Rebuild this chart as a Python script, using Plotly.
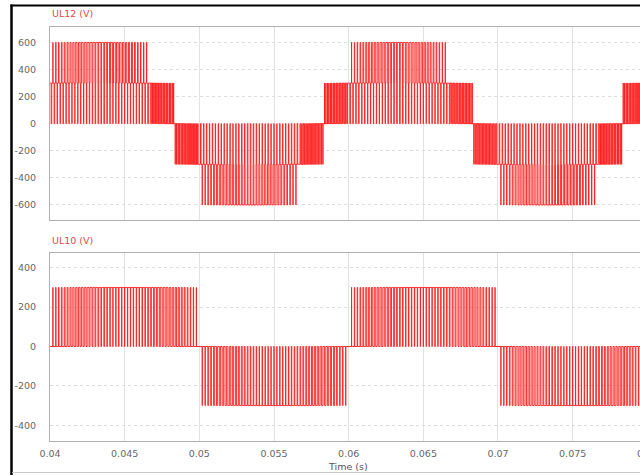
import numpy as np
import plotly.graph_objects as go

# ---- values ----
T_START = 0.04          # s
T_END = 0.0800          # s
F_FUND = 50.0           # Hz, fundamental (period 0.02 s)
V_HALF = 300.0          # V, half DC-link level (UL10 swings 0..±300)
PHASE_SHIFT_DEG = 120.0 # second leg lags by 120°
F_CARRIER = 5100.0      # Hz, PWM carrier (estimated)
MOD_INDEX = 0.9         # modulation index (estimated)

X_TICKS = [0.04, 0.045, 0.05, 0.055, 0.06, 0.065, 0.07, 0.075]
X_TICK_TEXT = ["0.04", "0.045", "0.05", "0.055", "0.06", "0.065", "0.07", "0.075"]
Y1_TICKS = [600, 400, 200, 0, -200, -400, -600]
Y2_TICKS = [400, 200, 0, -200, -400]

# ---- build the switching waveforms ----
dt = 1e-7
t = np.arange(T_START, T_END + dt, dt)
theta = 2 * np.pi * F_FUND * (t - T_START)
s1 = np.sin(theta)
s2 = np.sin(theta - np.deg2rad(PHASE_SHIFT_DEG))
frac = (t * F_CARRIER) % 1.0
carrier = 1.0 - np.abs(2 * frac - 1.0)
ul10 = V_HALF * np.sign(s1) * (MOD_INDEX * np.abs(s1) > carrier)
ul20 = V_HALF * np.sign(s2) * (MOD_INDEX * np.abs(s2) > carrier)
ul12 = ul10 - ul20


def compress(tt, yy):
    idx = np.concatenate(([0], np.nonzero(np.diff(yy))[0] + 1, [len(yy) - 1]))
    return tt[idx], yy[idx]


t12, v12 = compress(t, ul12)
t10, v10 = compress(t, ul10)

RED = "#ff1a1a"
fig = go.Figure()
fig.add_trace(go.Scatter(x=t12, y=v12, mode="lines", line=dict(color=RED, width=0.9, shape="hv"),
                         xaxis="x", yaxis="y", hoverinfo="skip", showlegend=False))
fig.add_trace(go.Scatter(x=t10, y=v10, mode="lines", line=dict(color=RED, width=0.9, shape="hv"),
                         xaxis="x2", yaxis="y2", hoverinfo="skip", showlegend=False))

FONT = dict(family="DejaVu Sans", size=9.5, color="#666666")
W, H = 640, 475
L, R, T, B = 50, 0, 27, 475 - 441
PW, PH = W - L - R, H - T - B
px2x = lambda px: (px - L) / PW
py2y = lambda py: (H - B - py) / PH

xr = [T_START, T_START + PW / 14933.0]
common_x = dict(range=xr, showgrid=True, gridcolor="#e2e2e2", gridwidth=1, zeroline=False,
                showline=True, linecolor="#b0b0b0", linewidth=1, mirror=True,
                tickvals=X_TICKS, ticktext=X_TICK_TEXT, tickfont=FONT,
                ticks="outside", ticklen=4, tickcolor="rgba(0,0,0,0)")
common_y = dict(showgrid=True, gridcolor="#dedede", griddash="dot", gridwidth=1, zeroline=False,
                showline=True, linecolor="#b0b0b0", linewidth=1, mirror=True, tickfont=FONT,
                ticks="outside", ticklen=11, tickcolor="rgba(0,0,0,0)")

fig.update_layout(
    width=W, height=H, margin=dict(l=L, r=R, t=T, b=B),
    paper_bgcolor="white", plot_bgcolor="white",
    xaxis=dict(common_x, domain=[0, 1], anchor="y", showticklabels=False),
    xaxis2=dict(common_x, domain=[0, 1], anchor="y2", matches="x"),
    yaxis=dict(common_y, domain=[py2y(220), 1], range=[-711, 714], tickvals=Y1_TICKS,
               ticktext=[str(v) for v in Y1_TICKS]),
    yaxis2=dict(common_y, domain=[0, py2y(253)], range=[-480, 475], tickvals=Y2_TICKS,
                ticktext=[str(v) for v in Y2_TICKS]),
    annotations=[
        dict(text="UL12 (V)", xref="paper", yref="paper", x=px2x(50), y=py2y(13),
             xanchor="left", yanchor="middle", showarrow=False,
             font=dict(family="DejaVu Sans", size=9.5, color="#e04848")),
        dict(text="UL10 (V)", xref="paper", yref="paper", x=px2x(50), y=py2y(240),
             xanchor="left", yanchor="middle", showarrow=False,
             font=dict(family="DejaVu Sans", size=9.5, color="#e04848")),
        dict(text="Time (s)", xref="paper", yref="paper", x=px2x(348), y=py2y(466.5),
             xanchor="center", yanchor="middle", showarrow=False,
             font=dict(family="DejaVu Sans", size=9.5, color="#555555")),
        dict(text="0.08", xref="paper", yref="paper", x=px2x(647), y=py2y(454),
             xanchor="center", yanchor="middle", showarrow=False, font=FONT),
    ],
    shapes=[
        dict(type="line", xref="paper", yref="paper", x0=px2x(11.5), x1=px2x(11.5),
             y0=py2y(4.5), y1=py2y(476), line=dict(color="black", width=2.5)),
        dict(type="line", xref="paper", yref="paper", x0=px2x(10.5), x1=px2x(641),
             y0=py2y(5.5), y1=py2y(5.5), line=dict(color="black", width=2)),
        dict(type="line", xref="paper", yref="paper", x0=px2x(12), x1=px2x(641),
             y0=py2y(472.5), y1=py2y(472.5), line=dict(color="#c8c8c8", width=1)),
    ],
)

fig.write_html("out.html", config={"displayModeBar": False},
               post_script="document.body.style.margin='0';document.body.style.overflow='hidden';")
